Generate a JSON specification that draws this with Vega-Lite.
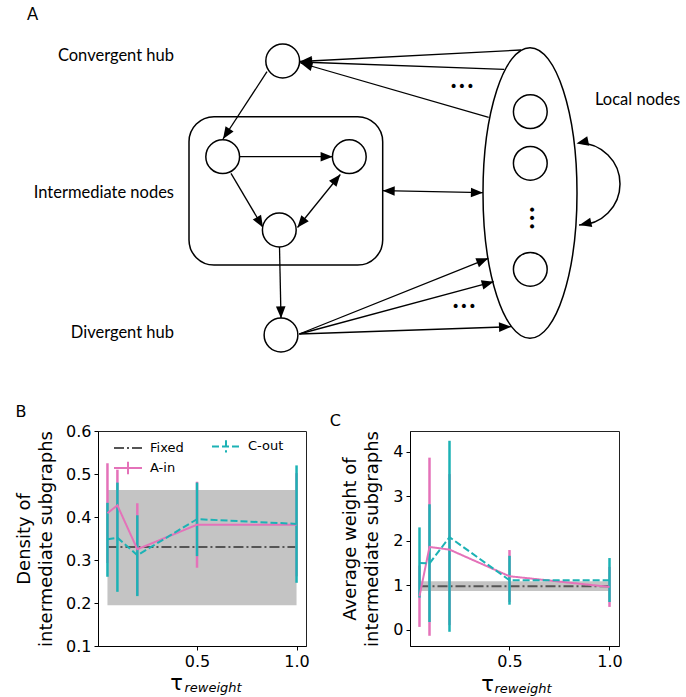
{
  "$schema": "https://vega.github.io/schema/vega-lite/v6.json",
  "padding": {"left": 15, "top": 0, "right": 0, "bottom": 0},
  "background": "white",
  "columns": 1,
  "spacing": 43,
  "config": {
    "view": {"stroke": null},
    "font": "DejaVu Sans",
    "axis": {"labelFont": "DejaVu Sans", "labelFontSize": 16, "labelColor": "black", "titleFont": "DejaVu Sans", "titleFontSize": 18, "titleFontWeight": "normal", "titleColor": "black", "tickColor": "black", "domainColor": "black", "tickSize": 4, "grid": false, "titleLineHeight": 22, "labelPadding": 3},
    "title": {"font": "DejaVu Sans", "fontSize": 16, "fontWeight": "normal", "color": "black", "anchor": "start", "baseline": "alphabetic"}
  },
  "datasets": {
    "nodes": [
      {"x": 281.7, "y": 61}, {"x": 221.7, "y": 156.7}, {"x": 348.3, "y": 156.7}, {"x": 278.3, "y": 230},
      {"x": 280, "y": 335}, {"x": 529.3, "y": 111.7}, {"x": 529.3, "y": 163.3}, {"x": 529.3, "y": 269.3}
    ],
    "ellipse": [{"x": 529, "y": 193}],
    "loop": [{"x": 578, "y": 184}],
    "box": [{"x": 188, "x2": 381.7, "y": 116.7, "y2": 265}],
    "edges": [
      {"x": 520, "y": 50, "x2": 299, "y2": 61.5, "kind": "one"},
      {"x": 503.3, "y": 69.3, "x2": 299, "y2": 62, "kind": "one"},
      {"x": 487.7, "y": 117.3, "x2": 299.5, "y2": 63, "kind": "one"},
      {"x": 266, "y": 71.7, "x2": 222, "y2": 139, "kind": "one"},
      {"x": 238.4, "y": 156.7, "x2": 331.6, "y2": 156.7, "kind": "one"},
      {"x": 230, "y": 173.3, "x2": 262, "y2": 227.5, "kind": "one"},
      {"x": 339.3, "y": 174.5, "x2": 296.5, "y2": 227.5, "kind": "both"},
      {"x": 381.7, "y": 190.7, "x2": 481.9, "y2": 192.7, "kind": "both"},
      {"x": 278.5, "y": 246.7, "x2": 280, "y2": 318.3, "kind": "one"},
      {"x": 298.3, "y": 334, "x2": 487.3, "y2": 258.3, "kind": "one"},
      {"x": 298.3, "y": 334, "x2": 492.7, "y2": 281.7, "kind": "one"},
      {"x": 298.3, "y": 334, "x2": 510, "y2": 326.7, "kind": "one"},
      {"x": 592, "y": 140, "x2": 575.5, "y2": 143.5, "kind": "loop"},
      {"x": 592, "y": 222, "x2": 578.5, "y2": 225, "kind": "loop"}
    ],
    "hdots": [{"x": 461, "y": 87}, {"x": 463, "y": 307}],
    "vdots": [{"x": 530, "y": 218}],
    "labelsRight": [
      {"x": 173, "y": 56, "text": "Convergent hub"},
      {"x": 173, "y": 193, "text": "Intermediate nodes"},
      {"x": 173, "y": 333, "text": "Divergent hub"}
    ],
    "labelsLeft": [
      {"x": 594, "y": 100, "text": "Local nodes"},
      {"x": 26, "y": 15, "text": "A"}
    ],
    "bFixed": [
      {"tau": 0.05, "series": "Fixed", "mean": 0.330, "lo": 0.195, "hi": 0.463},
      {"tau": 1.0, "series": "Fixed", "mean": 0.330, "lo": 0.195, "hi": 0.463}
    ],
    "bSeries": [
      {"tau": 0.05, "series": "A-in", "mean": 0.409, "lo": 0.293, "hi": 0.525},
      {"tau": 0.1, "series": "A-in", "mean": 0.427, "lo": 0.344, "hi": 0.510},
      {"tau": 0.2, "series": "A-in", "mean": 0.325, "lo": 0.218, "hi": 0.432},
      {"tau": 0.5, "series": "A-in", "mean": 0.382, "lo": 0.282, "hi": 0.482},
      {"tau": 1.0, "series": "A-in", "mean": 0.382, "lo": 0.262, "hi": 0.502},
      {"tau": 0.05, "series": "C-out", "mean": 0.348, "lo": 0.261, "hi": 0.433},
      {"tau": 0.1, "series": "C-out", "mean": 0.352, "lo": 0.226, "hi": 0.480},
      {"tau": 0.2, "series": "C-out", "mean": 0.311, "lo": 0.216, "hi": 0.404},
      {"tau": 0.5, "series": "C-out", "mean": 0.395, "lo": 0.309, "hi": 0.480},
      {"tau": 1.0, "series": "C-out", "mean": 0.384, "lo": 0.247, "hi": 0.520}
    ],
    "cFixed": [
      {"tau": 0.05, "series": "Fixed", "mean": 0.977, "lo": 0.87, "hi": 1.09},
      {"tau": 1.0, "series": "Fixed", "mean": 0.977, "lo": 0.87, "hi": 1.09}
    ],
    "cSeries": [
      {"tau": 0.05, "series": "A-in", "mean": 0.75, "lo": 0.06, "hi": 1.44},
      {"tau": 0.1, "series": "A-in", "mean": 1.86, "lo": -0.14, "hi": 3.87},
      {"tau": 0.2, "series": "A-in", "mean": 1.80, "lo": 0.10, "hi": 3.50},
      {"tau": 0.5, "series": "A-in", "mean": 1.20, "lo": 0.62, "hi": 1.79},
      {"tau": 1.0, "series": "A-in", "mean": 0.96, "lo": 0.51, "hi": 1.41},
      {"tau": 0.05, "series": "C-out", "mean": 1.50, "lo": 0.72, "hi": 2.30},
      {"tau": 0.1, "series": "C-out", "mean": 1.49, "lo": 0.17, "hi": 2.82},
      {"tau": 0.2, "series": "C-out", "mean": 2.08, "lo": -0.05, "hi": 4.25},
      {"tau": 0.5, "series": "C-out", "mean": 1.11, "lo": 0.56, "hi": 1.66},
      {"tau": 1.0, "series": "C-out", "mean": 1.11, "lo": 0.62, "hi": 1.61}
    ]
  },
  "concat": [
    {
      "width": 589,
      "height": 360,
      "layer": [
        {
          "data": {"name": "box"},
          "mark": {"type": "rect", "cornerRadius": 25, "fill": "transparent", "stroke": "black", "strokeWidth": 1.5},
          "encoding": {
            "x": {"field": "x", "type": "quantitative", "scale": {"domain": [97, 686], "nice": false, "zero": false}, "axis": null},
            "x2": {"field": "x2"},
            "y": {"field": "y", "type": "quantitative", "scale": {"domain": [0, 360], "reverse": true, "nice": false, "zero": false}, "axis": null},
            "y2": {"field": "y2"}
          }
        },
        {
          "data": {"name": "ellipse"},
          "mark": {"type": "point", "shape": "M0,-1A0.3235,1,0,1,1,0,1A0.3235,1,0,1,1,0,-1Z", "size": 84448, "fill": "white", "stroke": "black", "strokeWidth": 1.5, "opacity": 1},
          "encoding": {
            "x": {"field": "x", "type": "quantitative", "axis": null},
            "y": {"field": "y", "type": "quantitative", "axis": null}
          }
        },
        {
          "data": {"name": "loop"},
          "mark": {"type": "point", "shape": "M0,-1A1,1,0,0,1,0,1", "size": 6724, "fill": "transparent", "stroke": "black", "strokeWidth": 1.5, "opacity": 1},
          "encoding": {
            "x": {"field": "x", "type": "quantitative", "axis": null},
            "y": {"field": "y", "type": "quantitative", "axis": null}
          }
        },
        {
          "data": {"name": "edges"},
          "transform": [{"filter": "datum.kind !== 'loop'"}],
          "mark": {"type": "rule", "color": "black", "strokeWidth": 1.3},
          "encoding": {
            "x": {"field": "x", "type": "quantitative", "axis": null},
            "y": {"field": "y", "type": "quantitative", "axis": null},
            "x2": {"field": "x2"},
            "y2": {"field": "y2"}
          }
        },
        {
          "data": {"name": "edges"},
          "transform": [{"calculate": "atan2(datum.x2 - datum.x, -(datum.y2 - datum.y)) * 180 / PI", "as": "ang"}],
          "mark": {"type": "point", "shape": "M0,0L-0.4,1L0.4,1Z", "size": 576, "filled": true, "color": "black", "opacity": 1},
          "encoding": {
            "x": {"field": "x2", "type": "quantitative", "axis": null},
            "y": {"field": "y2", "type": "quantitative", "axis": null},
            "angle": {"field": "ang", "type": "quantitative", "scale": null}
          }
        },
        {
          "data": {"name": "edges"},
          "transform": [{"filter": "datum.kind === 'both'"}, {"calculate": "atan2(datum.x - datum.x2, -(datum.y - datum.y2)) * 180 / PI", "as": "ang"}],
          "mark": {"type": "point", "shape": "M0,0L-0.4,1L0.4,1Z", "size": 576, "filled": true, "color": "black", "opacity": 1},
          "encoding": {
            "x": {"field": "x", "type": "quantitative", "axis": null},
            "y": {"field": "y", "type": "quantitative", "axis": null},
            "angle": {"field": "ang", "type": "quantitative", "scale": null}
          }
        },
        {
          "data": {"name": "nodes"},
          "mark": {"type": "point", "shape": "circle", "size": 1140, "fill": "white", "stroke": "black", "strokeWidth": 1.5, "opacity": 1},
          "encoding": {
            "x": {"field": "x", "type": "quantitative", "axis": null},
            "y": {"field": "y", "type": "quantitative", "axis": null}
          }
        },
        {
          "data": {"name": "hdots"},
          "mark": {"type": "text", "text": "•••", "fontSize": 14, "font": "DejaVu Sans", "align": "center", "baseline": "middle", "color": "black"},
          "encoding": {
            "x": {"field": "x", "type": "quantitative", "axis": null},
            "y": {"field": "y", "type": "quantitative", "axis": null}
          }
        },
        {
          "data": {"name": "vdots"},
          "mark": {"type": "text", "text": "•••", "fontSize": 14, "font": "DejaVu Sans", "align": "center", "baseline": "middle", "angle": 90, "color": "black"},
          "encoding": {
            "x": {"field": "x", "type": "quantitative", "axis": null},
            "y": {"field": "y", "type": "quantitative", "axis": null}
          }
        },
        {
          "data": {"name": "labelsRight"},
          "mark": {"type": "text", "align": "right", "baseline": "middle", "font": "Lato", "fontSize": 16.5, "color": "black"},
          "encoding": {
            "x": {"field": "x", "type": "quantitative", "axis": null},
            "y": {"field": "y", "type": "quantitative", "axis": null},
            "text": {"field": "text"}
          }
        },
        {
          "data": {"name": "labelsLeft"},
          "mark": {"type": "text", "align": "left", "baseline": "middle", "font": "Lato", "fontSize": 16.5, "color": "black"},
          "encoding": {
            "x": {"field": "x", "type": "quantitative", "axis": null},
            "y": {"field": "y", "type": "quantitative", "axis": null},
            "text": {"field": "text"}
          }
        }
      ]
    },
    {
      "spacing": 19,
      "resolve": {"scale": {"color": "independent", "strokeDash": "independent", "x": "independent", "y": "independent"}, "legend": {"color": "independent", "strokeDash": "independent"}},
      "hconcat": [
        {
          "title": {"text": "B", "offset": 3},
          "width": 208,
          "height": 215,
          "view": {"stroke": "#222", "strokeWidth": 1},
          "resolve": {"axis": {"x": "independent", "y": "independent"}},
          "layer": [
            {
              "data": {"name": "bFixed"},
              "mark": {"type": "area", "color": "#c4c4c4", "opacity": 1},
              "encoding": {
                "x": {"field": "tau", "type": "quantitative", "scale": {"domain": [0.0025, 1.0475], "nice": false, "zero": false}, "axis": null},
                "y": {"field": "lo", "type": "quantitative", "scale": {"domain": [0.1, 0.6], "nice": false, "zero": false},
                      "axis": {"orient": "left", "values": [0.1, 0.2, 0.3, 0.4, 0.5, 0.6], "format": ".1f", "title": ["Density of", "intermediate subgraphs"], "titlePadding": 10}},
                "y2": {"field": "hi"}
              }
            },
            {
              "data": {"name": "bFixed"},
              "mark": {"type": "line", "strokeWidth": 2},
              "encoding": {
                "x": {"field": "tau", "type": "quantitative", "axis": null},
                "y": {"field": "mean", "type": "quantitative", "axis": null},
                "color": {"field": "series", "type": "nominal", "scale": {"domain": ["Fixed", "A-in", "C-out"], "range": ["#555555", "#e472b9", "#1cb2b5"]},
                  "legend": {"title": null, "orient": "none", "legendX": 19, "legendY": 4, "columns": 2, "columnPadding": 24, "rowPadding": 0, "padding": 0,
                    "labelFont": "DejaVu Sans", "labelFontSize": 13, "labelColor": "black", "labelOffset": 11, "symbolSize": 400, "symbolStrokeWidth": 2,
                    "encode": {"symbols": {"update": {"shape": {"signal": "datum.value === 'Fixed' ? 'M-1.4,0H1.4' : 'M-1.4,0H1.4M0,-0.62V0.62'"}}}}}},
                "strokeDash": {"field": "series", "type": "nominal", "scale": {"domain": ["Fixed", "A-in", "C-out"], "range": [[10, 3, 2, 3], [1, 0], [7, 3]]}}
              }
            },
            {
              "data": {"name": "bSeries"},
              "mark": {"type": "rule", "strokeWidth": 2.5},
              "encoding": {
                "x": {"field": "tau", "type": "quantitative",
                      "axis": {"orient": "bottom", "values": [0.5, 1.0], "format": ".1f", "title": "τ", "titleFontSize": 21, "titleX": 78, "titleY": 43, "titleAlign": "center", "titleBaseline": "alphabetic"}},
                "y": {"field": "lo", "type": "quantitative", "axis": null},
                "y2": {"field": "hi"},
                "color": {"field": "series", "type": "nominal", "scale": {"domain": ["Fixed", "A-in", "C-out"], "range": ["#555555", "#e472b9", "#1cb2b5"]}}
              }
            },
            {
              "data": {"name": "bSeries"},
              "mark": {"type": "line", "strokeWidth": 2},
              "encoding": {
                "x": {"field": "tau", "type": "quantitative",
                      "axis": {"orient": "bottom", "title": "reweight", "labels": false, "ticks": false, "domain": false, "titleFontSize": 13, "titleFontStyle": "italic", "titleX": 86, "titleY": 45, "titleAlign": "left", "titleBaseline": "alphabetic"}},
                "y": {"field": "mean", "type": "quantitative", "axis": null},
                "color": {"field": "series", "type": "nominal", "scale": {"domain": ["Fixed", "A-in", "C-out"], "range": ["#555555", "#e472b9", "#1cb2b5"]}},
                "strokeDash": {"field": "series", "type": "nominal", "scale": {"domain": ["Fixed", "A-in", "C-out"], "range": [[10, 3, 2, 3], [1, 0], [7, 3]]}}
              }
            }
          ]
        },
        {
          "title": {"text": "C", "offset": 2, "dx": -12},
          "width": 209,
          "height": 215,
          "view": {"stroke": "#222", "strokeWidth": 1},
          "resolve": {"axis": {"x": "independent", "y": "independent"}},
          "layer": [
            {
              "data": {"name": "cFixed"},
              "mark": {"type": "area", "color": "#c4c4c4", "opacity": 1},
              "encoding": {
                "x": {"field": "tau", "type": "quantitative", "scale": {"domain": [0.0025, 1.0475], "nice": false, "zero": false}, "axis": null},
                "y": {"field": "lo", "type": "quantitative", "scale": {"domain": [-0.37, 4.47], "nice": false, "zero": false},
                      "axis": {"orient": "left", "values": [0, 1, 2, 3, 4], "format": "d", "title": ["Average weight of", "intermediate subgraphs"], "titlePadding": 11}},
                "y2": {"field": "hi"}
              }
            },
            {
              "data": {"name": "cFixed"},
              "mark": {"type": "line", "strokeWidth": 2},
              "encoding": {
                "x": {"field": "tau", "type": "quantitative", "axis": null},
                "y": {"field": "mean", "type": "quantitative", "axis": null},
                "color": {"field": "series", "type": "nominal", "scale": {"domain": ["Fixed", "A-in", "C-out"], "range": ["#555555", "#e472b9", "#1cb2b5"]}, "legend": null},
                "strokeDash": {"field": "series", "type": "nominal", "scale": {"domain": ["Fixed", "A-in", "C-out"], "range": [[10, 3, 2, 3], [1, 0], [7, 3]]}, "legend": null}
              }
            },
            {
              "data": {"name": "cSeries"},
              "mark": {"type": "rule", "strokeWidth": 2.5},
              "encoding": {
                "x": {"field": "tau", "type": "quantitative",
                      "axis": {"orient": "bottom", "values": [0.5, 1.0], "format": ".1f", "title": "τ", "titleFontSize": 21, "titleX": 77, "titleY": 44, "titleAlign": "center", "titleBaseline": "alphabetic"}},
                "y": {"field": "lo", "type": "quantitative", "axis": null},
                "y2": {"field": "hi"},
                "color": {"field": "series", "type": "nominal", "scale": {"domain": ["Fixed", "A-in", "C-out"], "range": ["#555555", "#e472b9", "#1cb2b5"]}, "legend": null}
              }
            },
            {
              "data": {"name": "cSeries"},
              "mark": {"type": "line", "strokeWidth": 2},
              "encoding": {
                "x": {"field": "tau", "type": "quantitative",
                      "axis": {"orient": "bottom", "title": "reweight", "labels": false, "ticks": false, "domain": false, "titleFontSize": 13, "titleFontStyle": "italic", "titleX": 84, "titleY": 46, "titleAlign": "left", "titleBaseline": "alphabetic"}},
                "y": {"field": "mean", "type": "quantitative", "axis": null},
                "color": {"field": "series", "type": "nominal", "scale": {"domain": ["Fixed", "A-in", "C-out"], "range": ["#555555", "#e472b9", "#1cb2b5"]}, "legend": null},
                "strokeDash": {"field": "series", "type": "nominal", "scale": {"domain": ["Fixed", "A-in", "C-out"], "range": [[10, 3, 2, 3], [1, 0], [7, 3]]}, "legend": null}
              }
            }
          ]
        }
      ]
    }
  ]
}
